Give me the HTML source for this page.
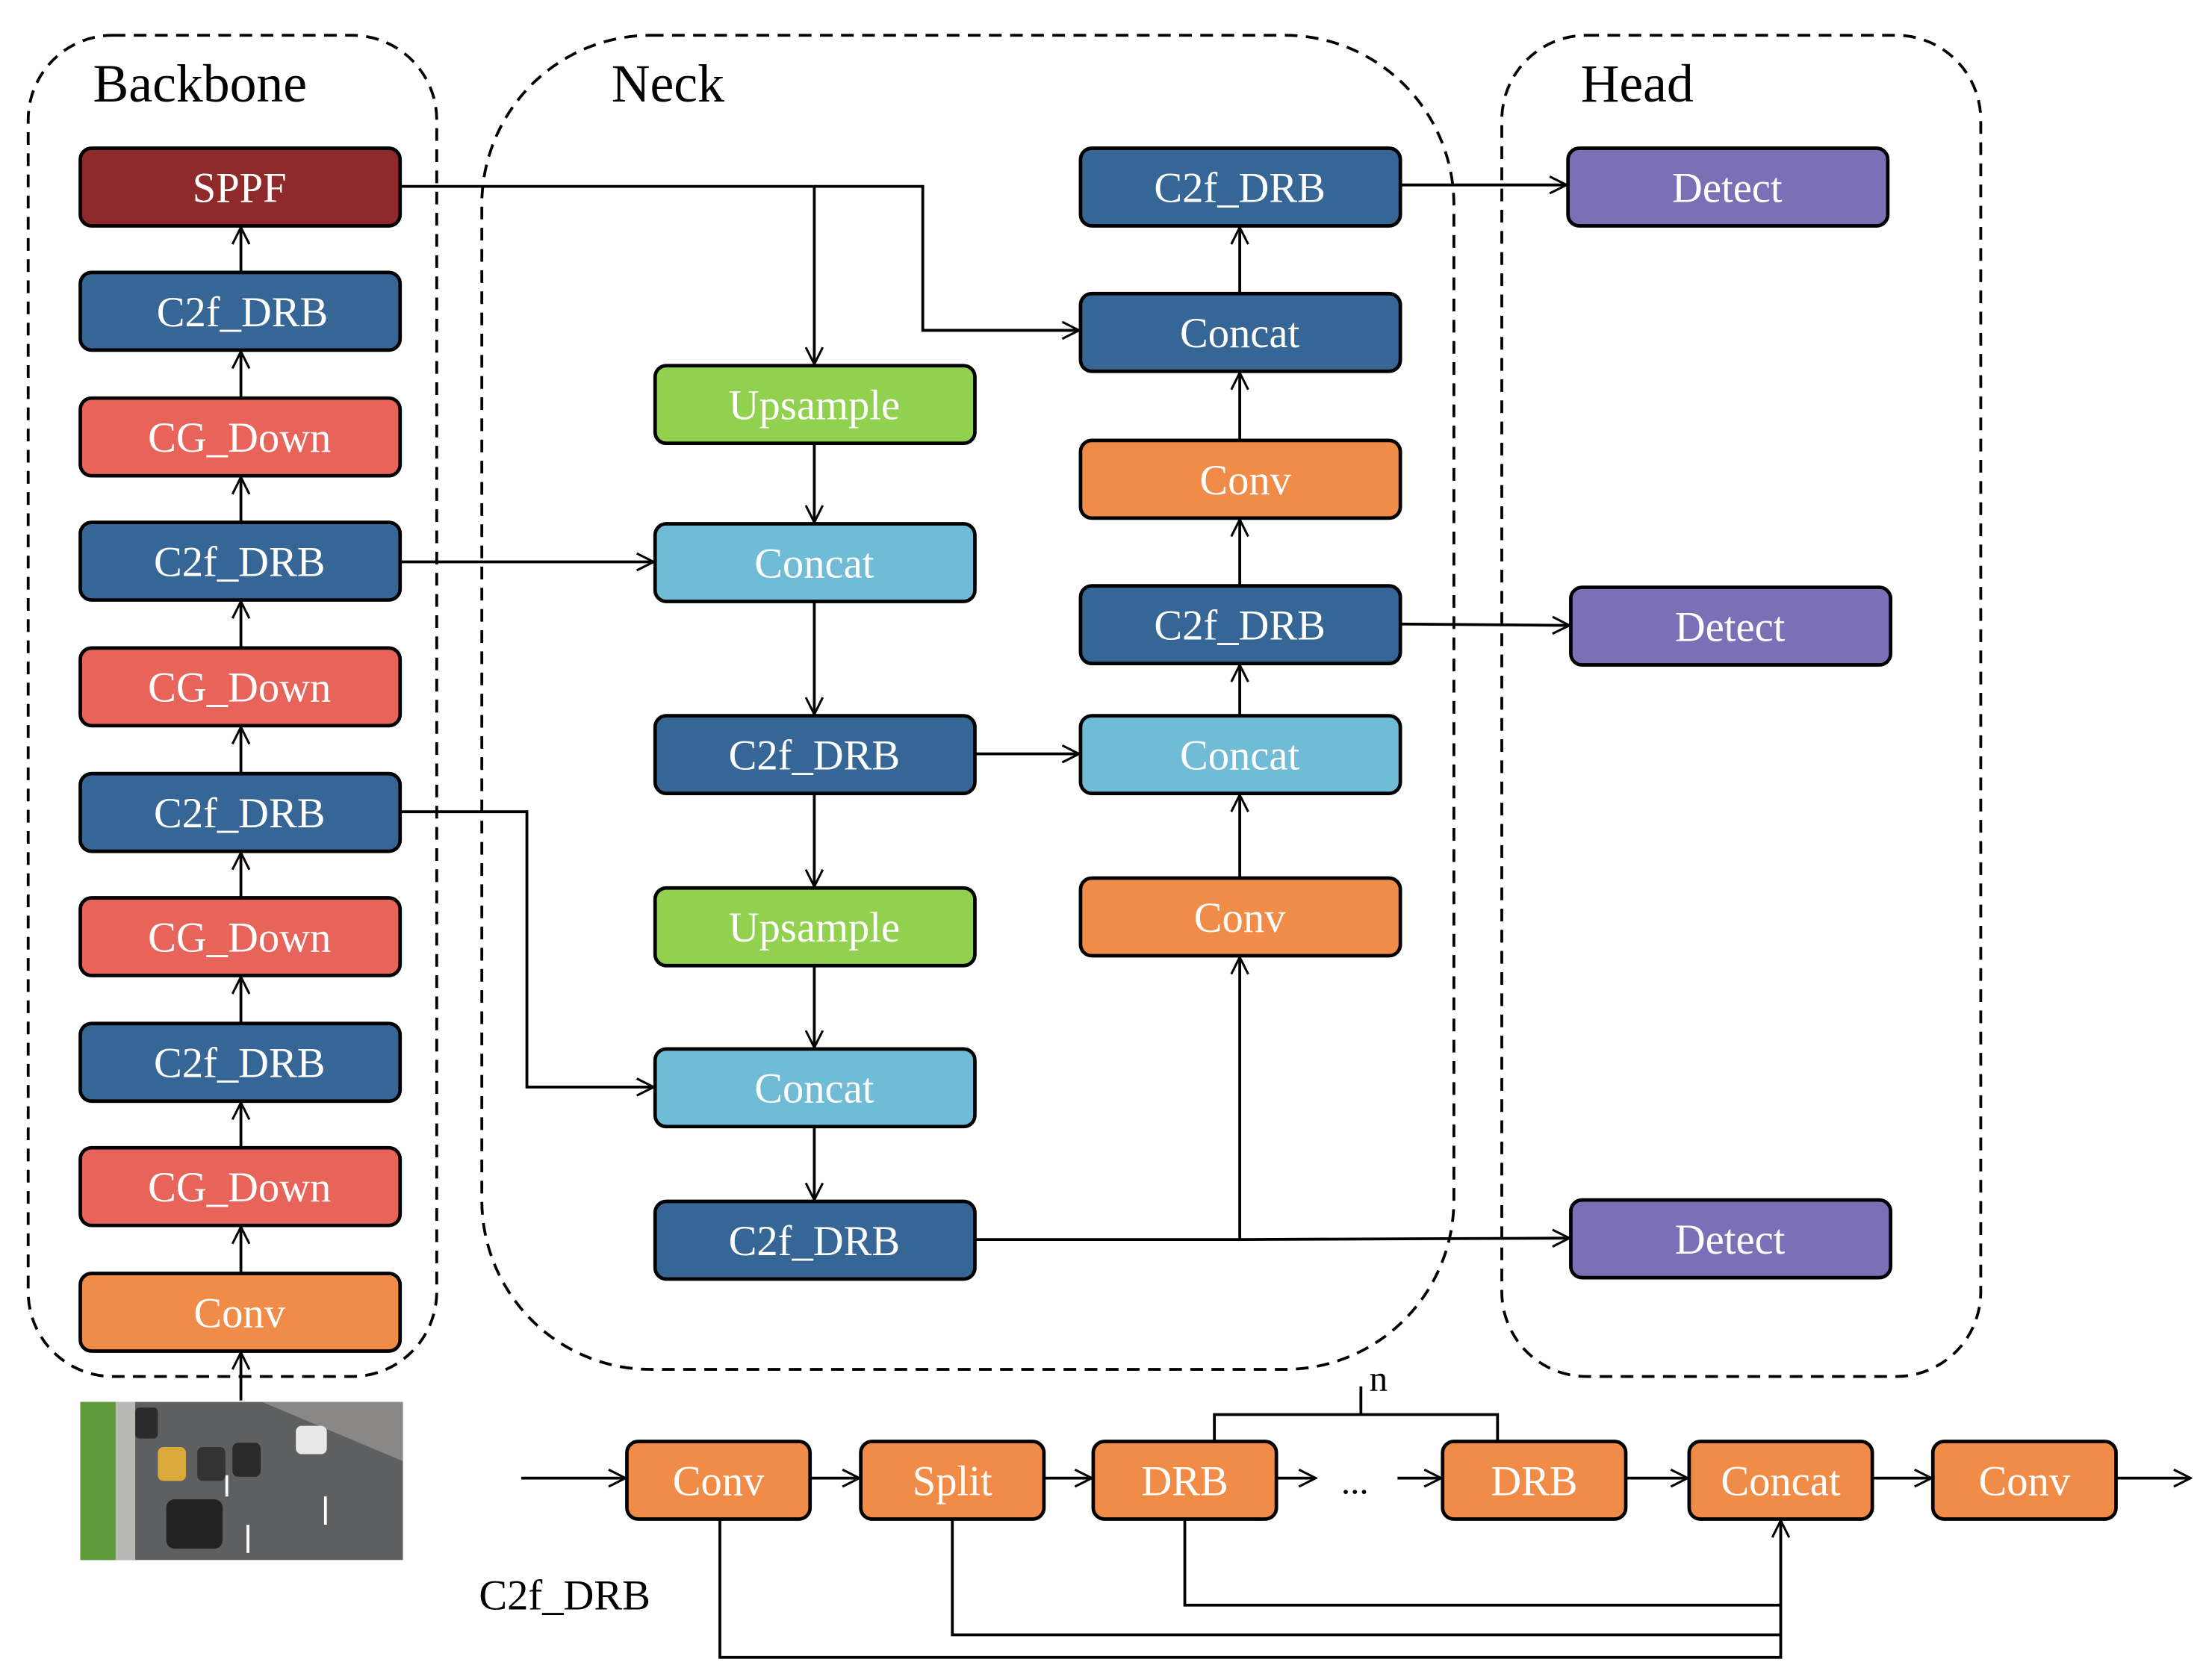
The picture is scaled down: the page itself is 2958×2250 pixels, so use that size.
<!DOCTYPE html>
<html><head><meta charset="utf-8"><style>html,body{margin:0;padding:0;background:#fff}svg{display:block}</style></head><body>
<svg width="2958" height="2250" viewBox="0 0 1568 1190" preserveAspectRatio="none" xmlns="http://www.w3.org/2000/svg">
<defs>
<marker id="a" viewBox="0 0 14 14" refX="13" refY="7" markerWidth="14" markerHeight="14" markerUnits="userSpaceOnUse" orient="auto"><path d="M1,1 L13,7 L1,13" fill="none" stroke="#000" stroke-width="1.6"/></marker>
</defs>
<style>
.b{stroke:#000;stroke-width:2.5}
.t{font-family:"Liberation Serif",serif;font-size:30px;fill:#fff;text-anchor:middle}
.l{stroke:#000;stroke-width:2;fill:none}
.d{stroke:#000;stroke-width:2;fill:none;stroke-dasharray:9,6}
.h{font-family:"Liberation Serif",serif;font-size:38px;fill:#000}
</style>
<!-- groups -->
<rect class="d" x="20" y="25" width="290" height="950" rx="60"/>
<rect class="d" x="342" y="25" width="690" height="945" rx="120"/>
<rect class="d" x="1066" y="25" width="340" height="950" rx="60"/>
<text class="h" x="66" y="72">Backbone</text>
<text class="h" x="434" y="72">Neck</text>
<text class="h" x="1122" y="72">Head</text>

<!-- connectors -->
<g class="l">
<line x1="171" y1="992" x2="171" y2="958" marker-end="url(#a)"/>
<line x1="171" y1="902" x2="171" y2="869" marker-end="url(#a)"/>
<line x1="171" y1="813" x2="171" y2="781" marker-end="url(#a)"/>
<line x1="171" y1="725" x2="171" y2="692" marker-end="url(#a)"/>
<line x1="171" y1="636" x2="171" y2="604" marker-end="url(#a)"/>
<line x1="171" y1="548" x2="171" y2="515" marker-end="url(#a)"/>
<line x1="171" y1="459" x2="171" y2="426" marker-end="url(#a)"/>
<line x1="171" y1="370" x2="171" y2="338" marker-end="url(#a)"/>
<line x1="171" y1="282" x2="171" y2="249" marker-end="url(#a)"/>
<line x1="171" y1="193" x2="171" y2="161" marker-end="url(#a)"/>
<polyline points="284,132 578,132 578,258" marker-end="url(#a)"/>
<polyline points="578,132 655,132 655,234 766,234" marker-end="url(#a)"/>
<line x1="284" y1="398" x2="464" y2="398" marker-end="url(#a)"/>
<polyline points="284,575 374,575 374,770 464,770" marker-end="url(#a)"/>
<line x1="578" y1="314" x2="578" y2="370" marker-end="url(#a)"/>
<line x1="578" y1="426" x2="578" y2="506" marker-end="url(#a)"/>
<line x1="578" y1="562" x2="578" y2="628" marker-end="url(#a)"/>
<line x1="578" y1="684" x2="578" y2="742" marker-end="url(#a)"/>
<line x1="578" y1="798" x2="578" y2="850" marker-end="url(#a)"/>
<line x1="692" y1="534" x2="766" y2="534" marker-end="url(#a)"/>
<polyline points="692,878 880,878 880,678" marker-end="url(#a)"/>
<line x1="880" y1="878" x2="1114" y2="877" marker-end="url(#a)"/>
<line x1="880" y1="622" x2="880" y2="563" marker-end="url(#a)"/>
<line x1="880" y1="507" x2="880" y2="471" marker-end="url(#a)"/>
<line x1="880" y1="415" x2="880" y2="368" marker-end="url(#a)"/>
<line x1="880" y1="312" x2="880" y2="264" marker-end="url(#a)"/>
<line x1="880" y1="208" x2="880" y2="161" marker-end="url(#a)"/>
<line x1="994" y1="131" x2="1112" y2="131" marker-end="url(#a)"/>
<line x1="994" y1="442" x2="1114" y2="443" marker-end="url(#a)"/>
<!-- bottom -->
<line x1="370" y1="1047" x2="444" y2="1047" marker-end="url(#a)"/>
<line x1="575" y1="1047" x2="610" y2="1047" marker-end="url(#a)"/>
<line x1="741" y1="1047" x2="775" y2="1047" marker-end="url(#a)"/>
<line x1="906" y1="1047" x2="934" y2="1047" marker-end="url(#a)"/>
<line x1="992" y1="1047" x2="1023" y2="1047" marker-end="url(#a)"/>
<line x1="1154" y1="1047" x2="1198" y2="1047" marker-end="url(#a)"/>
<line x1="1329" y1="1047" x2="1371" y2="1047" marker-end="url(#a)"/>
<line x1="1502" y1="1047" x2="1555" y2="1047" marker-end="url(#a)"/>
<polyline points="841,1076 841,1137 1264,1137"/>
<polyline points="676,1076 676,1158 1264,1158"/>
<polyline points="511,1076 511,1174 1264,1174 1264,1077" marker-end="url(#a)"/>
<polyline points="862,1020 862,1002 966,1002 966,982 966,1002 1063,1002 1063,1020"/>
</g>
<text x="972" y="985" font-family="Liberation Serif,serif" font-size="26">n</text>
<text x="952" y="1058" font-family="Liberation Serif,serif" font-size="26">...</text>
<text x="340" y="1140" font-family="Liberation Serif,serif" font-size="30">C2f_DRB</text>

<!-- backbone boxes -->
<g class="b">
<rect x="57" y="105" width="227" height="55" rx="8" fill="#8E2A2A"/>
<rect x="57" y="193" width="227" height="55" rx="8" fill="#366696"/>
<rect x="57" y="282" width="227" height="55" rx="8" fill="#E8635A"/>
<rect x="57" y="370" width="227" height="55" rx="8" fill="#366696"/>
<rect x="57" y="459" width="227" height="55" rx="8" fill="#E8635A"/>
<rect x="57" y="548" width="227" height="55" rx="8" fill="#366696"/>
<rect x="57" y="636" width="227" height="55" rx="8" fill="#E8635A"/>
<rect x="57" y="725" width="227" height="55" rx="8" fill="#366696"/>
<rect x="57" y="813" width="227" height="55" rx="8" fill="#E8635A"/>
<rect x="57" y="902" width="227" height="55" rx="8" fill="#F08C48"/>
<rect x="465" y="259" width="227" height="55" rx="8" fill="#92D050"/>
<rect x="465" y="371" width="227" height="55" rx="8" fill="#70BBD6"/>
<rect x="465" y="507" width="227" height="55" rx="8" fill="#366696"/>
<rect x="465" y="629" width="227" height="55" rx="8" fill="#92D050"/>
<rect x="465" y="743" width="227" height="55" rx="8" fill="#70BBD6"/>
<rect x="465" y="851" width="227" height="55" rx="8" fill="#366696"/>
<rect x="767" y="105" width="227" height="55" rx="8" fill="#366696"/>
<rect x="767" y="208" width="227" height="55" rx="8" fill="#366696"/>
<rect x="767" y="312" width="227" height="55" rx="8" fill="#F08C48"/>
<rect x="767" y="415" width="227" height="55" rx="8" fill="#366696"/>
<rect x="767" y="507" width="227" height="55" rx="8" fill="#70BBD6"/>
<rect x="767" y="622" width="227" height="55" rx="8" fill="#F08C48"/>
<rect x="1113" y="105" width="227" height="55" rx="8" fill="#7B6FB5"/>
<rect x="1115" y="416" width="227" height="55" rx="8" fill="#7B6FB5"/>
<rect x="1115" y="850" width="227" height="55" rx="8" fill="#7B6FB5"/>
<rect x="445" y="1021" width="130" height="55" rx="8" fill="#F08C48"/>
<rect x="611" y="1021" width="130" height="55" rx="8" fill="#F08C48"/>
<rect x="776" y="1021" width="130" height="55" rx="8" fill="#F08C48"/>
<rect x="1024" y="1021" width="130" height="55" rx="8" fill="#F08C48"/>
<rect x="1199" y="1021" width="130" height="55" rx="8" fill="#F08C48"/>
<rect x="1372" y="1021" width="130" height="55" rx="8" fill="#F08C48"/>
</g>
<g class="t">
<text x="170" y="143">SPPF</text>
<text x="172" y="231">C2f_DRB</text>
<text x="170" y="320">CG_Down</text>
<text x="170" y="408">C2f_DRB</text>
<text x="170" y="497">CG_Down</text>
<text x="170" y="586">C2f_DRB</text>
<text x="170" y="674">CG_Down</text>
<text x="170" y="763">C2f_DRB</text>
<text x="170" y="851">CG_Down</text>
<text x="170" y="940">Conv</text>
<text x="578" y="297">Upsample</text>
<text x="578" y="409">Concat</text>
<text x="578" y="545">C2f_DRB</text>
<text x="578" y="667">Upsample</text>
<text x="578" y="781">Concat</text>
<text x="578" y="889">C2f_DRB</text>
<text x="880" y="143">C2f_DRB</text>
<text x="880" y="246">Concat</text>
<text x="884" y="350">Conv</text>
<text x="880" y="453">C2f_DRB</text>
<text x="880" y="545">Concat</text>
<text x="880" y="660">Conv</text>
<text x="1226" y="143">Detect</text>
<text x="1228" y="454">Detect</text>
<text x="1228" y="888">Detect</text>
<text x="510" y="1059">Conv</text>
<text x="676" y="1059">Split</text>
<text x="841" y="1059">DRB</text>
<text x="1089" y="1059">DRB</text>
<text x="1264" y="1059">Concat</text>
<text x="1437" y="1059">Conv</text>
</g>
<!-- image -->
<rect x="57" y="993" width="229" height="112" fill="#5d5f60"/>
<rect x="57" y="993" width="25" height="112" fill="#5e9a3a"/>
<rect x="82" y="993" width="14" height="112" fill="#b8b8b4"/>
<polygon points="186,993 286,993 286,1035" fill="#8a8886"/>
<g fill="#fff">
<rect x="160" y="1045" width="2" height="15"/><rect x="175" y="1080" width="2" height="20"/><rect x="230" y="1060" width="2" height="20"/>
</g>
<rect x="118" y="1062" width="40" height="35" rx="6" fill="#222"/>
<rect x="112" y="1025" width="20" height="24" rx="4" fill="#d9a93a"/>
<rect x="140" y="1025" width="20" height="24" rx="4" fill="#333"/>
<rect x="165" y="1022" width="20" height="24" rx="4" fill="#2a2a2a"/>
<rect x="210" y="1010" width="22" height="20" rx="4" fill="#e8e8e8"/>
<rect x="96" y="997" width="16" height="22" rx="3" fill="#2b2b2b"/>
</svg>
</body></html>
